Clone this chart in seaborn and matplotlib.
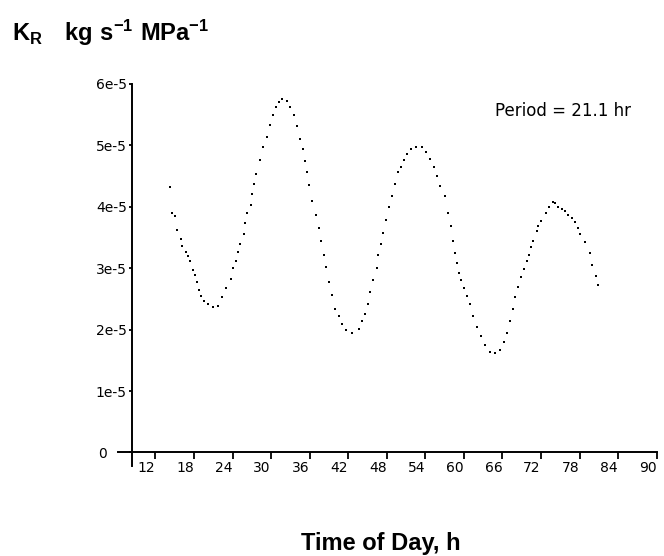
import numpy as np
import pandas as pd
import matplotlib
matplotlib.use('Agg')
import matplotlib.pyplot as plt
import matplotlib.transforms as mtransforms
import seaborn as sns

# K_R readings (units of 1e-5 kg s-1 MPa-1) against time of day, h
time_h = [14.2, 14.5, 15.0, 15.4, 15.9, 16.2, 16.7, 17.1, 17.4, 17.8, 18.1, 18.4,
          18.7, 19.1, 19.5, 20.1, 20.9, 21.8, 22.4, 23.0, 23.7, 24.1, 24.6, 24.9,
          25.2, 25.7, 26.0, 26.3, 26.8, 27.1, 27.4, 27.7, 28.3, 28.8, 29.3, 29.9,
          30.3, 30.8, 31.3, 31.7, 32.4, 33.0, 33.6, 34.1, 34.5, 34.9, 35.3, 35.6,
          35.9, 36.4, 37.0, 37.5, 37.8, 38.3, 38.6, 39.0, 39.5, 40.0, 40.5, 41.1,
          41.7, 42.6, 43.6, 44.2, 44.6, 45.1, 45.4, 45.9, 46.4, 46.7, 47.1, 47.4,
          47.9, 48.4, 48.8, 49.3, 49.8, 50.2, 50.7, 51.1, 51.8, 52.6, 53.5, 54.1,
          54.7, 55.4, 55.8, 56.3, 57.1, 57.5, 58.0, 58.3, 58.6, 58.9, 59.3, 59.6,
          60.0, 60.5, 61.0, 61.4, 62.1, 62.7, 63.3, 64.1, 64.9, 65.6, 66.3, 66.7,
          67.2, 67.6, 68.0, 68.4, 68.9, 69.3, 69.8, 70.1, 70.4, 70.7, 71.3, 71.6,
          72.0, 72.7, 73.3, 73.8, 74.1, 74.6, 75.2, 75.7, 76.2, 76.8, 77.3, 77.7,
          78.0, 78.8, 79.6, 80.0, 80.5, 80.9]
kr_e5 = [4.32, 3.90, 3.85, 3.62, 3.47, 3.36, 3.27, 3.20, 3.11, 2.97, 2.89, 2.77,
         2.64, 2.55, 2.47, 2.42, 2.36, 2.39, 2.53, 2.67, 2.83, 3.00, 3.11, 3.27,
         3.40, 3.55, 3.73, 3.90, 4.03, 4.21, 4.37, 4.54, 4.76, 4.97, 5.13, 5.33,
         5.49, 5.63, 5.71, 5.75, 5.72, 5.63, 5.49, 5.31, 5.11, 4.94, 4.75, 4.56,
         4.36, 4.09, 3.87, 3.66, 3.44, 3.21, 3.02, 2.78, 2.56, 2.33, 2.22, 2.09,
         2.00, 1.95, 2.01, 2.14, 2.26, 2.42, 2.61, 2.81, 3.00, 3.21, 3.40, 3.58,
         3.79, 3.99, 4.18, 4.37, 4.56, 4.65, 4.76, 4.86, 4.94, 4.98, 4.97, 4.89,
         4.78, 4.64, 4.50, 4.34, 4.18, 3.90, 3.68, 3.44, 3.24, 3.08, 2.92, 2.80,
         2.68, 2.55, 2.41, 2.22, 2.04, 1.89, 1.75, 1.64, 1.62, 1.67, 1.79, 1.95,
         2.14, 2.33, 2.53, 2.70, 2.85, 2.99, 3.11, 3.22, 3.35, 3.44, 3.60, 3.68,
         3.77, 3.90, 3.99, 4.07, 4.06, 3.99, 3.96, 3.93, 3.87, 3.82, 3.76, 3.66,
         3.55, 3.42, 3.24, 3.05, 2.88, 2.72]

x_ticks = list(range(12, 91, 6))
y_ticks = [0, 1e-5, 2e-5, 3e-5, 4e-5, 5e-5, 6e-5]
y_tick_labels = ['0', '1e-5', '2e-5', '3e-5', '4e-5', '5e-5', '6e-5']

df = pd.DataFrame({'time': time_h, 'kr': np.array(kr_e5) * 1e-5})

sns.set_style('white')
plt.rcParams['font.family'] = ['DejaVu Sans']
plt.rcParams['text.color'] = 'black'
plt.rcParams['mathtext.fontset'] = 'custom'
plt.rcParams['mathtext.rm'] = 'Liberation Sans'
plt.rcParams['mathtext.bf'] = 'Liberation Sans:bold'

fig = plt.figure(figsize=(6.64, 5.56), dpi=100)
ax = fig.add_axes([0.178, 0.162, 0.811, 0.687])

sns.scatterplot(data=df, x='time', y='kr', ax=ax, marker='s', s=4.5,
                color='black', linewidth=0, legend=False)

ax.set_xlim(6.2, 90)
ax.set_ylim(-0.22e-5, 6e-5)
ax.set_xticks(x_ticks)
ax.set_xticklabels([str(t) for t in x_ticks], fontsize=10)
ax.set_yticks(y_ticks)
ax.set_yticklabels(y_tick_labels, fontsize=10)
ax.tick_params(axis='x', bottom=True, direction='out', length=5, width=1.3, pad=1,
               colors='black', labelcolor='black')
ax.tick_params(axis='y', left=True, direction='out', length=2.5, width=1.3, pad=1,
               colors='black', labelcolor='black')

for s in ['top', 'right']:
    ax.spines[s].set_visible(False)
ax.spines['left'].set_position(('data', 8.3))
ax.spines['bottom'].set_position(('data', 0))
for s in ['left', 'bottom']:
    ax.spines[s].set_linewidth(1.4)
    ax.spines[s].set_color('black')

ax.set_xlabel('')
ax.set_ylabel('')

# labels sit a bit left of their ticks in the original
shift_x = mtransforms.ScaledTranslation(-9 / 100, 0, fig.dpi_scale_trans)
for lab in ax.get_xticklabels():
    lab.set_transform(lab.get_transform() + shift_x)
shift_0 = mtransforms.ScaledTranslation(-20 / 100, 0, fig.dpi_scale_trans)
lab0 = ax.get_yticklabels()[0]
lab0.set_transform(lab0.get_transform() + shift_0)

ax.text(0.70, 0.93, 'Period = 21.1 hr', transform=ax.transAxes, fontsize=12,
        va='center', ha='left')

fig.text(0.018, 0.94, r'$\mathbf{K_R}$   $\mathbf{kg\ s^{-1}\ MPa^{-1}}$',
         fontsize=17, va='center', ha='left')
fig.text(0.574, 0.023, 'Time of Day, h', fontsize=17, fontweight='bold',
         family='Liberation Sans', ha='center', va='center')

fig.savefig('out.png', dpi=100)
